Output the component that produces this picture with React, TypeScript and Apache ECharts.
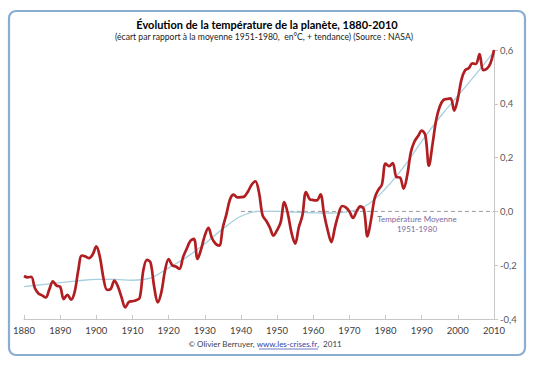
import React, { useEffect, useRef } from "react";
import * as echarts from "echarts";

const redYears = [
  1880, 1881, 1882, 1883, 1884, 1885, 1886, 1887, 1888, 1889,
  1890, 1891, 1892, 1893, 1894, 1895, 1896, 1897, 1898, 1899,
  1900, 1901, 1902, 1903, 1904, 1905, 1906, 1907, 1908, 1909,
  1910, 1911, 1912, 1913, 1914, 1915, 1916, 1917, 1918, 1919,
  1920, 1921, 1922, 1923, 1924, 1925, 1926, 1927, 1928, 1929,
  1930, 1931, 1932, 1933, 1934, 1935, 1936, 1937, 1938, 1939,
  1940, 1941, 1942, 1943, 1944, 1945, 1946, 1947, 1948, 1949,
  1950, 1951, 1952, 1953, 1954, 1955, 1956, 1957, 1958, 1959,
  1960, 1961, 1962, 1963, 1964, 1965, 1966, 1967, 1968, 1969,
  1970, 1971, 1972, 1973, 1974, 1975, 1976, 1977, 1978, 1979,
  1980, 1981, 1982, 1983, 1984, 1985, 1986, 1987, 1988, 1989,
  1990, 1991, 1992, 1993, 1994, 1995, 1996, 1997, 1998, 1999,
  2000, 2001, 2002, 2003, 2004, 2005, 2006, 2007, 2008, 2009,
  2010,
];
const redValues = [
  -0.24, -0.245, -0.243, -0.285, -0.305, -0.312, -0.32, -0.29, -0.26, -0.276,
  -0.28, -0.326, -0.31, -0.328, -0.3, -0.22, -0.164, -0.168, -0.174, -0.16,
  -0.13, -0.17, -0.25, -0.292, -0.288, -0.257, -0.28, -0.32, -0.357, -0.337,
  -0.334, -0.33, -0.322, -0.22, -0.18, -0.19, -0.28, -0.338, -0.3, -0.22,
  -0.177, -0.2, -0.205, -0.214, -0.17, -0.139, -0.11, -0.102, -0.177, -0.14,
  -0.09, -0.061, -0.1, -0.12, -0.127, -0.06, -0.01, 0.045, 0.062, 0.052,
  0.053, 0.056, 0.075, 0.1, 0.112, 0.07, -0.015, -0.035, -0.06, -0.09,
  -0.07, -0.04, 0.035, -0.01, -0.08, -0.12, -0.06, -0.015, 0.072, 0.046,
  0.042, 0.041, 0.063, -0.01, -0.07, -0.114, -0.06, -0.01, 0.02, 0.015,
  0.0, -0.024, 0.0, 0.019, 0.008, -0.093, -0.03, 0.05, 0.08, 0.1,
  0.178, 0.168, 0.18, 0.128, 0.126, 0.085, 0.134, 0.22, 0.26, 0.28,
  0.3, 0.284, 0.17, 0.25, 0.34, 0.39, 0.414, 0.418, 0.42, 0.375,
  0.42, 0.49, 0.525, 0.532, 0.55, 0.548, 0.585, 0.525, 0.53, 0.55,
  0.6,
];

const trendYears = [
  1880, 1885, 1890, 1895, 1900, 1905, 1910, 1915, 1918, 1920, 1925, 1930,
  1935, 1940, 1945, 1950, 1955, 1960, 1965, 1970, 1975, 1980, 1985, 1990,
  1995, 2000, 2005, 2010,
];
const trendValues = [
  -0.28, -0.272, -0.265, -0.258, -0.253, -0.253, -0.256, -0.248, -0.226, -0.21,
  -0.17, -0.12, -0.065, -0.018, 0.0, 0.0, -0.003, -0.005, -0.006, 0.0, 0.025,
  0.085, 0.165, 0.26, 0.35, 0.43, 0.51, 0.595,
];

const refYears = [1940, 2010];
const refValues = [0, 0];

const titleText = "Évolution de la température de la planète, 1880-2010";
const subtitleText =
  "(écart par rapport à la moyenne 1951-1980,  en°C, + tendance) (Source : NASA)";
const refLabel = ["Température Moyenne", "1951-1980"];

const zip = (xs: number[], ys: number[]) => xs.map((x, i) => [x, ys[i]]);

const FONT = "Lato, 'Open Sans', sans-serif";

export default function App() {
  const ref = useRef<HTMLDivElement>(null);
  useEffect(() => {
    if (!ref.current) return;
    const chart = echarts.init(ref.current, null, { renderer: "svg" });
    chart.setOption({
      animation: false,
      backgroundColor: "#ffffff",
      grid: { left: 24, right: 41, top: 50, bottom: 50 },
      xAxis: {
        type: "value",
        min: 1880,
        max: 2010,
        interval: 10,
        axisLine: { onZero: false, lineStyle: { color: "#c8c8c8", width: 1 } },
        axisTick: { inside: true, length: 4, lineStyle: { color: "#c8c8c8" } },
        axisLabel: {
          color: "#404040",
          fontSize: 9.5,
          fontFamily: FONT,
          margin: 6,
          formatter: (v: number) => String(v),
        },
        splitLine: { show: false },
      },
      yAxis: {
        type: "value",
        position: "right",
        min: -0.4,
        max: 0.6,
        interval: 0.2,
        axisLine: { show: true, onZero: false, lineStyle: { color: "#c8c8c8", width: 1 } },
        axisTick: { show: true, length: 4, lineStyle: { color: "#c8c8c8" } },
        axisLabel: {
          color: "#595959",
          fontSize: 9.5,
          fontFamily: FONT,
          margin: 6,
          formatter: (v: number) => v.toFixed(1).replace(".", ","),
        },
        splitLine: { show: false },
      },
      series: [
        {
          type: "line",
          data: zip(refYears, refValues),
          symbol: "none",
          lineStyle: { color: "#9a9a9a", width: 1, type: [4, 3] },
          z: 1,
        },
        {
          type: "line",
          data: zip(trendYears, trendValues),
          symbol: "none",
          smooth: 0.4,
          lineStyle: { color: "#a6cfe0", width: 1.3 },
          z: 2,
        },
        {
          type: "line",
          data: zip(redYears, redValues),
          symbol: "none",
          smooth: 0.35,
          lineStyle: { color: "#b01e22", width: 2.7 },
          z: 3,
        },
      ],
      graphic: [
        {
          type: "rect",
          shape: { x: 9, y: 11, width: 516, height: 344, r: 7 },
          style: { fill: "none", stroke: "#8aaed3", lineWidth: 2.2 },
          z: 0,
          silent: true,
        },
        {
          type: "text",
          x: 267,
          y: 24,
          style: {
            text: titleText,
            fill: "#000000",
            font: `bold 11px ${FONT}`,
            align: "center",
            verticalAlign: "middle",
          },
        },
        {
          type: "text",
          x: 264,
          y: 37,
          style: {
            text: subtitleText,
            fill: "#222222",
            font: `8.6px ${FONT}`,
            align: "center",
            verticalAlign: "middle",
          },
        },
        {
          type: "text",
          x: 417,
          y: 219,
          style: {
            text: refLabel[0],
            fill: "#7b6ba0",
            font: `8px ${FONT}`,
            align: "center",
            verticalAlign: "middle",
          },
        },
        {
          type: "text",
          x: 417,
          y: 229,
          style: {
            text: refLabel[1],
            fill: "#7b6ba0",
            font: `8px ${FONT}`,
            align: "center",
            verticalAlign: "middle",
          },
        },
        {
          type: "text",
          x: 265,
          y: 344,
          style: {
            text: "{a|© Olivier Berruyer, }{b|www.les-crises.fr}{a|,  2011}",
            align: "center",
            verticalAlign: "middle",
            rich: {
              a: { fill: "#404040", font: `8px ${FONT}` },
              b: { fill: "#2f3fa8", font: `8px ${FONT}` },
            },
          },
        },
        {
          type: "line",
          shape: { x1: 259, y1: 349, x2: 318, y2: 349 },
          style: { stroke: "#2f3fa8", lineWidth: 0.7 },
        },
      ],
    });
    return () => chart.dispose();
  }, []);
  return (
    <div
      ref={ref}
      style={{ position: "fixed", left: 0, top: 0, width: 535, height: 369 }}
    />
  );
}
